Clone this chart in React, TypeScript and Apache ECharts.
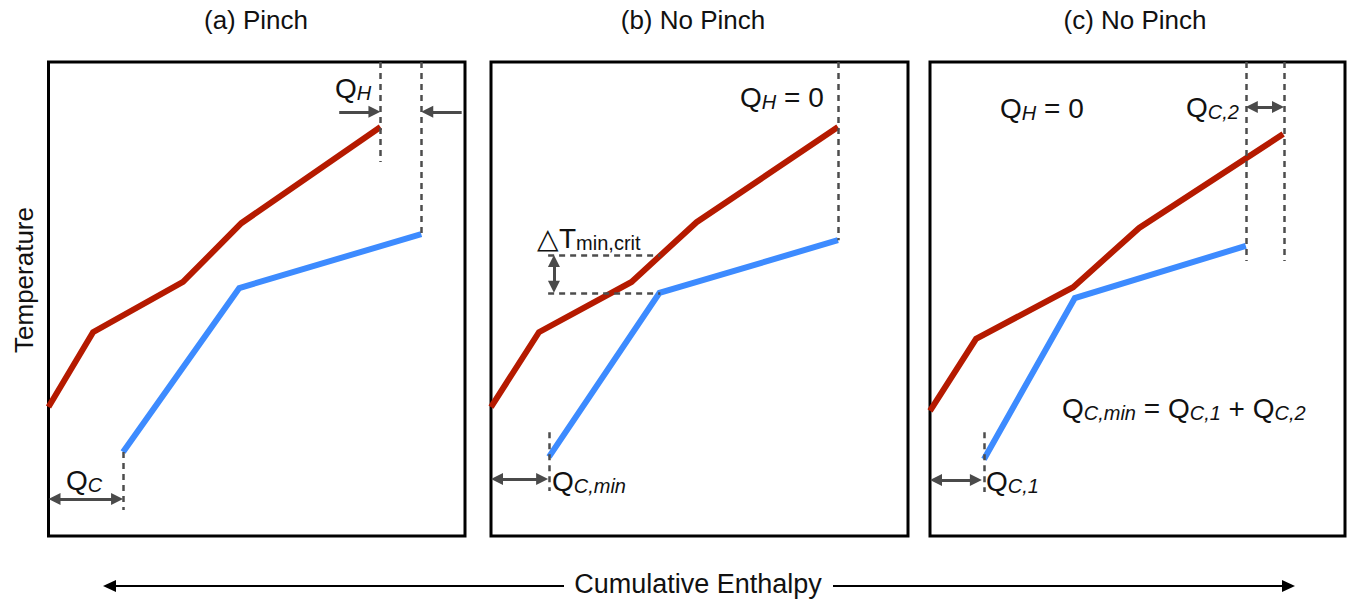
import React, { useEffect, useRef } from "react";
import * as echarts from "echarts";

const FONT = "'Liberation Sans', Arial, Helvetica, sans-serif";
const RED = "#b51a00";
const BLUE = "#3d8bff";
const DASH = "#4d4d4d";
const ARROW = "#4a4a4a";

// Panel titles
const titles = ["(a) Pinch", "(b) No Pinch", "(c) No Pinch"];

// Composite curves: [enthalpy, temperature] in 0-100 units per panel
const hotA = [[0, 27.2], [10.7, 43.0], [32.3, 53.6], [46.3, 66.0], [79.7, 86.3]];
const coldA = [[17.9, 17.7], [45.8, 52.3], [89.5, 63.7]];
const hotB = [[0, 27.2], [11.5, 43.0], [33.7, 53.6], [49.3, 66.2], [83.2, 86.3]];
const coldB = [[13.9, 16.7], [40.4, 51.3], [83.2, 62.4]];
const hotC = [[0, 26.4], [11.1, 41.6], [34.5, 52.5], [50.4, 65.0], [85.1, 84.8]];
const coldC = [[13.0, 16.2], [34.9, 50.2], [76.1, 61.2]];

// Dashed guides [[x1,y1],[x2,y2]]
const dashA = [
  [[79.7, 100], [79.7, 78.9]],
  [[89.5, 100], [89.5, 63.7]],
  [[17.9, 17.7], [17.9, 5.5]],
];
const dashB = [
  [[83.2, 100], [83.2, 62.4]],
  [[13.9, 21.9], [13.9, 9.5]],
  [[13.7, 59.3], [40.6, 59.3]],
  [[13.7, 51.3], [40.6, 51.3]],
];
const dashC = [
  [[76.1, 100], [76.1, 58.0]],
  [[85.3, 100], [85.3, 58.0]],
  [[13.0, 21.9], [13.0, 9.3]],
];

// Single-headed arrows (head at end)
const arrowsA = [
  [[69.8, 89.5], [79.7, 89.5]],
  [[99.2, 89.5], [89.5, 89.5]],
];
// Double-headed arrows
const dblA = [[[0, 7.8], [17.9, 7.8]]];
const dblB = [
  [[0, 12.0], [13.7, 12.0]],
  [[15.1, 59.3], [15.1, 51.3]],
];
const dblC = [
  [[76.1, 90.5], [85.3, 90.5]],
  [[0, 11.8], [12.5, 11.8]],
];

const grids = [
  { left: 48.5, top: 62, width: 416.5, height: 474 },
  { left: 491, top: 62, width: 417, height: 474 },
  { left: 930, top: 62, width: 415, height: 474 },
];

const HEAD = 12;

function curve(data: number[][], color: string, i: number) {
  return {
    type: "line",
    xAxisIndex: i,
    yAxisIndex: i,
    data,
    showSymbol: false,
    symbol: "none",
    lineStyle: { color, width: 6, cap: "butt", join: "miter" },
    silent: true,
  };
}

// pull an arrow end in by half the head so the tip lands on the given point
function pull(p: number[], q: number[], i: number) {
  const g = grids[i];
  const pxPerX = g.width / 100;
  const pxPerY = g.height / 100;
  const dx = (q[0] - p[0]) * pxPerX;
  const dy = (q[1] - p[1]) * pxPerY;
  const len = Math.hypot(dx, dy) || 1;
  const k = HEAD / 2 / len;
  return [p[0] + (dx * k) / pxPerX, p[1] + (dy * k) / pxPerY];
}

function lines(segs: number[][][], i: number, kind: "dash" | "arrow" | "dbl") {
  const data = segs.map(([a, b]) => {
    if (kind === "dash") return { coords: [a, b] };
    const end = pull(b, a, i);
    const start = kind === "dbl" ? pull(a, b, i) : a;
    return { coords: [start, end] };
  });
  return {
    type: "lines",
    coordinateSystem: "cartesian2d",
    xAxisIndex: i,
    yAxisIndex: i,
    z: 5,
    silent: true,
    symbol: kind === "dash" ? ["none", "none"] : kind === "arrow" ? ["none", "triangle"] : ["triangle", "triangle"],
    symbolSize: HEAD,
    lineStyle: {
      color: kind === "dash" ? DASH : ARROW,
      width: kind === "dash" ? 2.5 : 3,
      type: kind === "dash" ? [6, 5] : "solid",
      opacity: 1,
      curveness: 0,
    },
    data,
  };
}

const rich = {
  q: { fontSize: 28, fontFamily: FONT, color: "#111" },
  s: { fontSize: 20, fontFamily: FONT, fontStyle: "italic", color: "#111", padding: [9, 0, 0, 0] },
  r: { fontSize: 20, fontFamily: FONT, color: "#111", padding: [9, 0, 0, 0] },
};

function label(text: string, x: number, y: number) {
  return {
    type: "text",
    x,
    y,
    style: { text, rich, textAlign: "left", textVerticalAlign: "middle", fill: "#111" },
  };
}

function plain(text: string, x: number, y: number, size: number, rotation = 0) {
  return {
    type: "text",
    x,
    y,
    rotation,
    style: {
      text,
      fontSize: size,
      fontFamily: FONT,
      fill: "#111",
      textAlign: "center",
      textVerticalAlign: "middle",
    },
  };
}

export default function App() {
  const ref = useRef<HTMLDivElement>(null);
  useEffect(() => {
    if (!ref.current) return;
    const chart = echarts.init(ref.current, null, { renderer: "svg" });
    const axis = (i: number) => ({
      type: "value",
      gridIndex: i,
      min: 0,
      max: 100,
      show: false,
    });
    const option: any = {
      animation: false,
      backgroundColor: "#ffffff",
      grid: grids.map((g) => ({ ...g, show: true, borderColor: "#000", borderWidth: 3, backgroundColor: "transparent" })),
      xAxis: [0, 1, 2].map(axis),
      yAxis: [0, 1, 2].map(axis),
      series: [
        curve(hotA, RED, 0),
        curve(coldA, BLUE, 0),
        curve(hotB, RED, 1),
        curve(coldB, BLUE, 1),
        curve(hotC, RED, 2),
        curve(coldC, BLUE, 2),
        lines(dashA, 0, "dash"),
        lines(dashB, 1, "dash"),
        lines(dashC, 2, "dash"),
        lines(arrowsA, 0, "arrow"),
        lines(dblA, 0, "dbl"),
        lines(dblB, 1, "dbl"),
        lines(dblC, 2, "dbl"),
      ],
      graphic: [
        plain(titles[0], 256, 20, 26),
        plain(titles[1], 693, 20, 26),
        plain(titles[2], 1135, 20, 26),
        plain("Temperature", 24, 280, 26, Math.PI / 2),
        plain("Cumulative Enthalpy", 698, 584, 27),
        { type: "line", shape: { x1: 110, y1: 586, x2: 564, y2: 586 }, style: { stroke: "#000", lineWidth: 2 } },
        { type: "polygon", shape: { points: [[103, 586], [116, 580], [116, 592]] }, style: { fill: "#000" } },
        { type: "line", shape: { x1: 833, y1: 586, x2: 1285, y2: 586 }, style: { stroke: "#000", lineWidth: 2 } },
        { type: "polygon", shape: { points: [[1295, 586], [1282, 580], [1282, 592]] }, style: { fill: "#000" } },
        label("{q|Q}{s|H}", 335, 88),
        label("{q|Q}{s|C}", 66, 480),
        label("{q|Q}{s|H}{q| = 0}", 740, 97),
        label("{q|△T}{r|min,crit}", 537, 238),
        label("{q|Q}{s|C,min}", 552, 481),
        label("{q|Q}{s|H}{q| = 0}", 1000, 108),
        label("{q|Q}{s|C,2}", 1186, 107),
        label("{q|Q}{s|C,1}", 986, 481),
        label("{q|Q}{s|C,min}{q| = Q}{s|C,1}{q| + Q}{s|C,2}", 1062, 408),
      ],
    };
    chart.setOption(option);
    return () => chart.dispose();
  }, []);
  return (
    <div
      ref={ref}
      style={{ position: "absolute", left: 0, top: 0, width: 1347, height: 601 }}
    />
  );
}
